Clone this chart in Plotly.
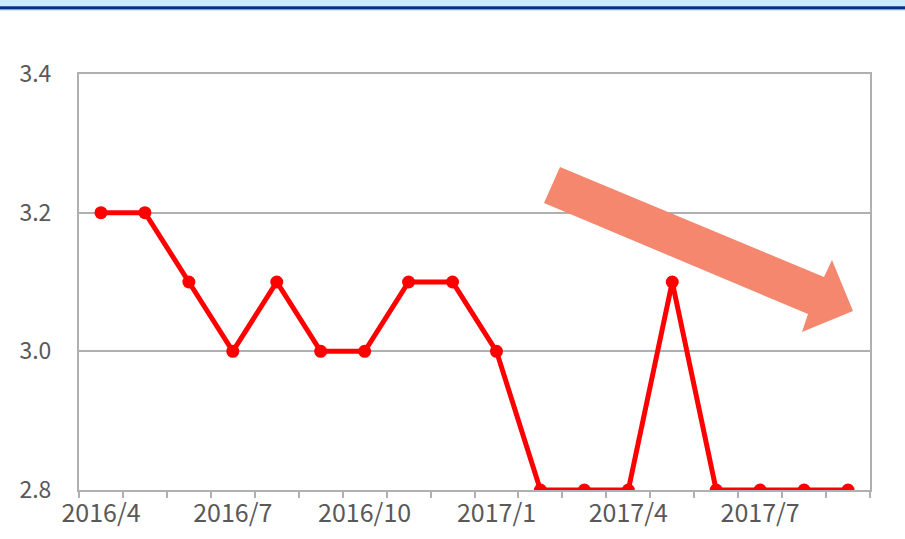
import plotly.graph_objects as go

months = ["2016/4", "2016/5", "2016/6", "2016/7", "2016/8", "2016/9",
          "2016/10", "2016/11", "2016/12", "2017/1", "2017/2", "2017/3",
          "2017/4", "2017/5", "2017/6", "2017/7", "2017/8", "2017/9"]
values = [3.2, 3.2, 3.1, 3.0, 3.1, 3.0, 3.0, 3.1, 3.1, 3.0,
          2.8, 2.8, 2.8, 3.1, 2.8, 2.8, 2.8, 2.8]
tick_labels = ["2016/4", "", "", "2016/7", "", "", "2016/10", "", "",
               "2017/1", "", "", "2017/4", "", "", "2017/7", "", ""]
y_ticks = [2.8, 3.0, 3.2, 3.4]

W, H = 905, 539
L, R, T, B = 79, 35, 74, 49
PW, PH = W - L - R, H - T - B

def px(x):
    return (x - L) / PW

def py(y):
    return (H - B - y) / PH

GRID = "#b0b0b0"
TXT = "#595959"
FONT = "Noto Sans CJK JP"

fig = go.Figure()
fig.add_trace(go.Scatter(
    x=months, y=values, mode="lines+markers",
    line=dict(color="#ff0000", width=5),
    marker=dict(color="#ff0000", size=13),
    hoverinfo="skip", showlegend=False,
))

# arrow (decoration) in pixel coordinates mapped to paper
arrow_px = [(560, 167), (824, 277), (832, 260), (853, 311),
            (802, 332), (808, 314), (544, 203)]
path = "M " + " L ".join(f"{px(a):.5f},{py(b):.5f}" for a, b in arrow_px) + " Z"

shapes = [
    dict(type="path", path=path, xref="paper", yref="paper",
         fillcolor="#f4876e", line=dict(width=0), layer="above"),
    # top banner
    dict(type="rect", xref="paper", yref="paper", x0=px(0), x1=px(W),
         y0=py(6.3), y1=py(-1), fillcolor="#cbecff", line=dict(width=0)),
    dict(type="rect", xref="paper", yref="paper", x0=px(0), x1=px(W),
         y0=py(9), y1=py(6.3), fillcolor="#06308a", line=dict(width=0)),
    dict(type="rect", xref="paper", yref="paper", x0=px(0), x1=px(W),
         y0=py(10.3), y1=py(9), fillcolor="#7ba4dc", line=dict(width=0)),
]

fig.update_layout(
    width=W, height=H,
    margin=dict(l=L, r=R, t=T, b=B),
    paper_bgcolor="white", plot_bgcolor="white",
    shapes=shapes,
    font=dict(family=FONT, color=TXT, size=23),
    xaxis=dict(
        type="category", categoryorder="array", categoryarray=months,
        tickmode="array", tickvals=months, ticktext=tick_labels,
        tickson="boundaries", ticks="outside", ticklen=6, tickwidth=2,
        tickcolor=GRID, showgrid=False, showline=True, linecolor=GRID,
        linewidth=2, mirror=True, range=[-0.5, 17.5],
        tickfont=dict(family=FONT, size=25, color=TXT),
        tickangle=0, automargin=False,
    ),
    yaxis=dict(
        range=[2.8, 3.4], tickmode="array", tickvals=y_ticks,
        tickformat=".1f", showgrid=True, gridcolor=GRID, gridwidth=2,
        showline=True, linecolor=GRID, linewidth=2, mirror=True,
        ticks="", ticklabelstandoff=21,
        tickfont=dict(family=FONT, size=23, color=TXT),
        zeroline=False, automargin=False,
    ),
)

fig.write_html("out.html", config={"displayModeBar": False},
               post_script="document.body.style.margin='0';")
